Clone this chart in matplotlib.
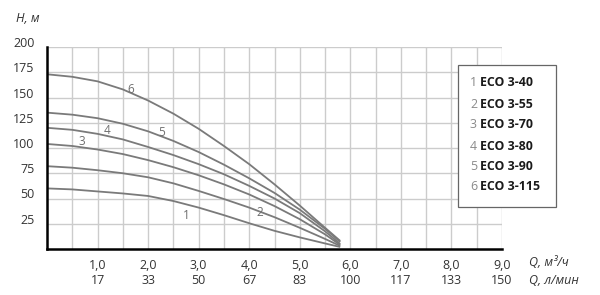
import matplotlib
matplotlib.use("Agg")
import matplotlib.pyplot as plt
from matplotlib.patches import Rectangle

plt.rcParams['font.family'] = ['Open Sans', 'DejaVu Sans']

# Data
Q = [0, 0.5, 1, 1.5, 2, 2.5, 3, 3.5, 4, 4.5, 5, 5.5, 5.8]
curves = {
    "1": [60, 59, 57, 55, 52.5, 47.5, 41, 33.5, 25.5, 18, 11.5, 5.5, 2],
    "2": [82, 80.5, 78, 75, 71, 65, 57.5, 49.5, 41, 31.5, 21, 10, 3],
    "3": [104, 102, 98.5, 94, 88, 81, 73, 64, 54, 42.5, 29.5, 14.5, 4],
    "4": [120, 118, 114, 108.5, 101, 93, 84, 74, 62.5, 50, 35.5, 17.5, 5],
    "5": [135, 133, 129.5, 124, 116.5, 107, 96, 83.5, 70, 55.5, 39, 20, 7],
    "6": [173, 170.5, 166, 158, 147, 134, 119, 102, 84, 64, 43, 21, 8],
}
models = ["ECO 3-40", "ECO 3-55", "ECO 3-70", "ECO 3-80", "ECO 3-90", "ECO 3-115"]
label_pos = {"1": (2.75, 33), "2": (4.2, 36), "3": (0.68, 106), "4": (1.19, 117),
             "5": (2.26, 115), "6": (1.66, 158)}
q_m3h = ["1,0", "2,0", "3,0", "4,0", "5,0", "6,0", "7,0", "8,0", "9,0"]
q_lmin = ["17", "33", "50", "67", "83", "100", "117", "133", "150"]
y_ticks = [25, 50, 75, 100, 125, 150, 175, 200]

fig = plt.figure(figsize=(6, 2.95), dpi=100)
ax = fig.add_axes([47/600, 1-249/295, (502-47)/600, (249-47)/295])
ax.set_xlim(0, 9)
ax.set_ylim(0, 200)

# grid
for x in [i*0.5 for i in range(1, 19)]:
    ax.axvline(x, color="#cccccc", lw=1.0, zorder=0)
for y in range(25, 201, 25):
    ax.axhline(y, color="#cccccc", lw=1.0, zorder=0)

for k, vals in curves.items():
    ax.plot(Q, vals, color="#7a7a7a", lw=1.3, zorder=2, solid_capstyle="butt")
    lx, ly = label_pos[k]
    ax.text(lx, ly, k, color="#6e6e6e", fontsize=8.5, ha="center", va="center", zorder=3)

for s in ["top", "right"]:
    ax.spines[s].set_visible(False)
ax.spines["left"].set_linewidth(1.8)
ax.spines["bottom"].set_linewidth(1.8)

ax.set_xticks(range(1, 10))
ax.set_xticklabels([f"{a}\n{b}" for a, b in zip(q_m3h, q_lmin)], fontsize=9,
                   color="#333333", linespacing=1.25)
ax.set_yticks(y_ticks)
ax.set_yticklabels([str(v) for v in y_ticks], fontsize=9, color="#333333", va="baseline")
ax.tick_params(axis="y", length=0, pad=9)
ax.tick_params(axis="x", length=0, pad=7)

fig.text(16/600, 1-19/295, "H, м", fontsize=9, style="italic", color="#333333",
         ha="left", va="center")
fig.text(529/600, 1-263/295, "Q, м³/ч", fontsize=9, style="italic", color="#333333",
         ha="left", va="center")
fig.text(529/600, 1-280/295, "Q, л/мин", fontsize=9, style="italic", color="#333333",
         ha="left", va="center")

# legend box
fig.patches.append(Rectangle((458/600, 1-207/295), (556-458)/600, (207-65)/295,
                             transform=fig.transFigure, facecolor="white",
                             edgecolor="#666666", lw=0.9, zorder=5))
rows = [83, 104, 125, 146, 167, 187]
for i, (m, yy) in enumerate(zip(models, rows)):
    fig.text(470/600, 1-yy/295, str(i+1), fontsize=8.9, color="#8a8a8a",
             ha="left", va="center", zorder=6)
    fig.text(480/600, 1-yy/295, m, fontsize=8.9, color="#1a1a1a", weight="bold",
             ha="left", va="center", zorder=6)

fig.savefig("out.png", dpi=100)
